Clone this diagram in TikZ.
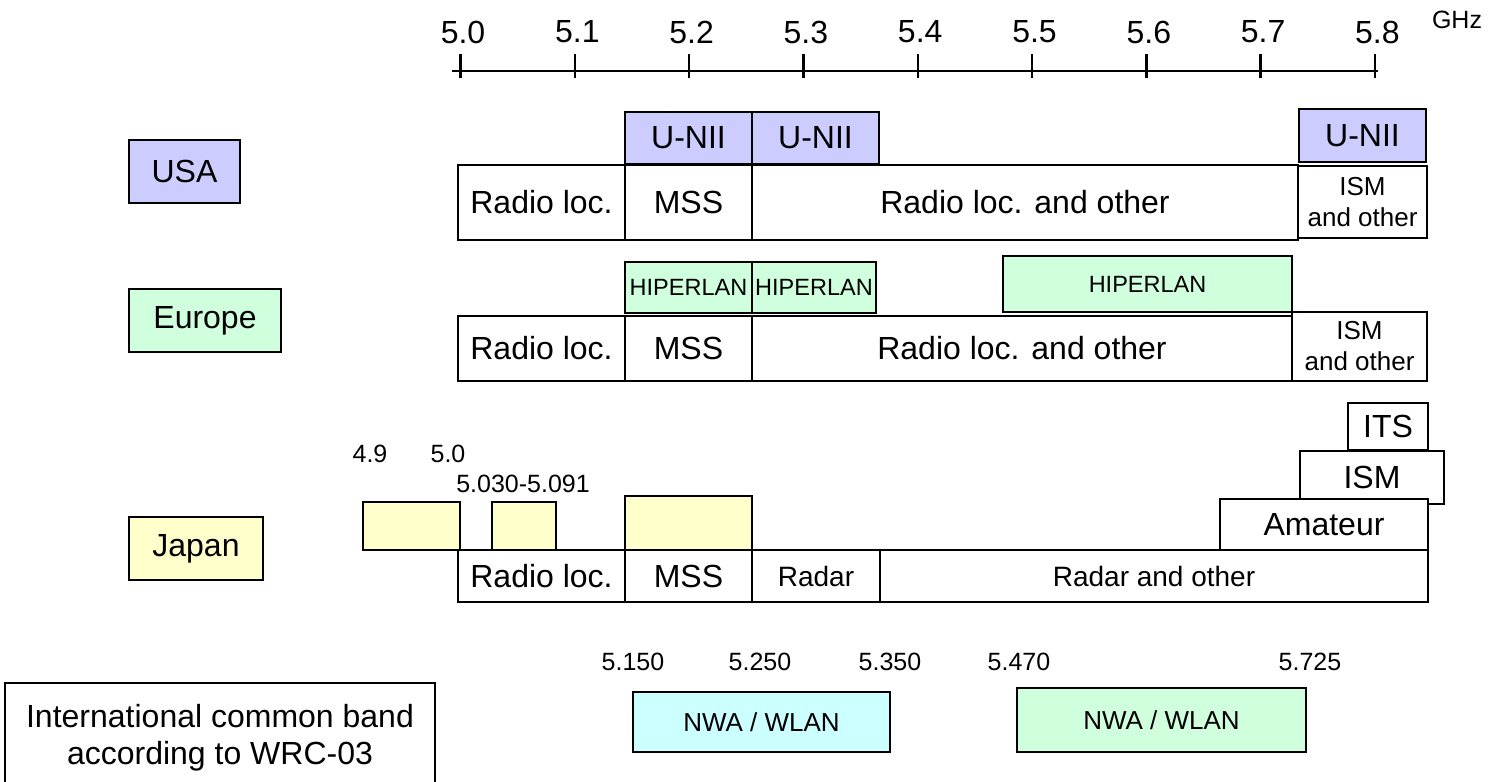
\documentclass[tikz,border=0pt]{standalone}
\usepackage{fontspec}
\setmainfont{Liberation Sans}
\definecolor{usablue}{RGB}{204,204,255}
\definecolor{eugreen}{RGB}{208,255,222}
\definecolor{jpyellow}{RGB}{255,255,204}
\definecolor{wlancyan}{RGB}{204,255,255}

\begin{document}
\begin{tikzpicture}[
        x=0.5pt,y=-0.5pt,
        every node/.style={font=\fontsize{16}{19}\selectfont, align=center, inner sep=0pt},
        band/.style={draw, line width=1.2pt},
        labradar/.style={font=\fontsize{14}{17}\selectfont},
        labism/.style={font=\fontsize{13}{15.5}\selectfont},
        labhiper/.style={font=\fontsize{11.75}{14}\selectfont},
        labfreq/.style={font=\fontsize{12.5}{15}\selectfont},
        labghz/.style={font=\fontsize{12.5}{15}\selectfont},
        labwrc/.style={font=\fontsize{16}{18.5}\selectfont},
        ]
        \useasboundingbox[fill=white] (0,0) rectangle (1492,781);

        % frequency axis
        \draw[line width=1.2pt] (452,71) -- (1378,71);
        \foreach \i in {0,...,8}{
            \draw[line width=1.2pt] ({460.5+114.3*\i},54) -- ({460.5+114.3*\i},78);
            \node (tick\i) at ({463+114.3*\i},32) {5.\i};
        }
        \node[labghz] (ghz) at (1457,20) {GHz};

        % region names
        \draw[band, fill=usablue] (129,140) rectangle (240,203) node[midway] (usa) {USA};
        \draw[band, fill=eugreen] (129,289) rectangle (281,352) node[midway] (europe) {Europe};
        \draw[band, fill=jpyellow] (129,517) rectangle (263,580) node[midway] (japan) {Japan};

        % USA
        \draw[band, fill=usablue] (625,112) rectangle (752,164) node[midway] (unii1) {U-NII};
        \draw[band, fill=usablue] (752,112) rectangle (879,164) node[midway] (unii2) {U-NII};
        \draw[band, fill=usablue] (1299,109) rectangle (1426,162) node[midway] (unii3) {U-NII};
        \draw[band] (458,165) rectangle (625,240) node[midway] (usradio) {Radio loc.};
        \draw[band] (625,165) rectangle (752,240) node[midway] (usmss) {MSS};
        \draw[band] (752,165) rectangle (1298,240) node[midway] (usother) {Radio loc. and other};
        \draw[band] (1298,166) rectangle (1427,238) node[midway, labism] (usism) {ISM\\and other};

        % Europe
        \draw[band, fill=eugreen] (625,262) rectangle (752,313) node[midway, labhiper] (hiper1) {HIPERLAN};
        \draw[band, fill=eugreen] (752,262) rectangle (876,313) node[midway, labhiper] (hiper2) {HIPERLAN};
        \draw[band, fill=eugreen] (1003,256) rectangle (1292,312) node[midway, labhiper] (hiper3) {HIPERLAN};
        \draw[band] (458,316) rectangle (625,381) node[midway] (euradio) {Radio loc.};
        \draw[band] (625,316) rectangle (752,381) node[midway] (eumss) {MSS};
        \draw[band] (752,316) rectangle (1292,381) node[midway] (euother) {Radio loc. and other};
        \draw[band] (1292,312) rectangle (1427,381) node[midway, labism] (euism) {ISM\\and other};

        % Japan
        \draw[band, fill=jpyellow] (363,502) rectangle (460,550) node[midway] (jp1) {};
        \draw[band, fill=jpyellow] (492,502) rectangle (556,550) node[midway] (jp2) {};
        \draw[band, fill=jpyellow] (625,496) rectangle (752,550) node[midway] (jp3) {};
        \node[labfreq] (f49) at (370,454) {4.9};
        \node[labfreq] (f50) at (448,454) {5.0};
        \node[labfreq] (f503) at (523,484) {5.030-5.091};
        \draw[band] (1348,403) rectangle (1428,450) node[midway] (its) {ITS};
        \draw[band, fill=white] (1300,451) rectangle (1444,504) node[midway] (jpism) {ISM};
        \draw[band, fill=white] (1220,499) rectangle (1428,550) node[midway] (amateur) {Amateur};
        \draw[band] (458,550) rectangle (625,602) node[midway] (jpradio) {Radio loc.};
        \draw[band] (625,550) rectangle (752,602) node[midway] (jpmss) {MSS};
        \draw[band] (752,550) rectangle (880,602) node[midway, labradar] (radar) {Radar};
        \draw[band] (880,550) rectangle (1428,602) node[midway, labradar] (radarother) {Radar and other};

        % common band WRC-03
        \draw[band] (5,800) -- (5,683) -- (435,683) -- (435,800);
        \node[labwrc] (wrc) at (220,738) {International common band\\according to WRC-03};
        \node[labfreq] (w5150) at (633,662) {5.150};
        \node[labfreq] (w5250) at (760,662) {5.250};
        \node[labfreq] (w5350) at (890,662) {5.350};
        \node[labfreq] (w5470) at (1019,662) {5.470};
        \node[labfreq] (w5725) at (1310,662) {5.725};
        \draw[band, fill=wlancyan] (633,692) rectangle (890,752) node[midway, labism] (wlan1) {NWA / WLAN};
        \draw[band, fill=eugreen] (1017,688) rectangle (1306,752) node[midway, labism] (wlan2) {NWA / WLAN};
      \end{tikzpicture}
\end{document}
